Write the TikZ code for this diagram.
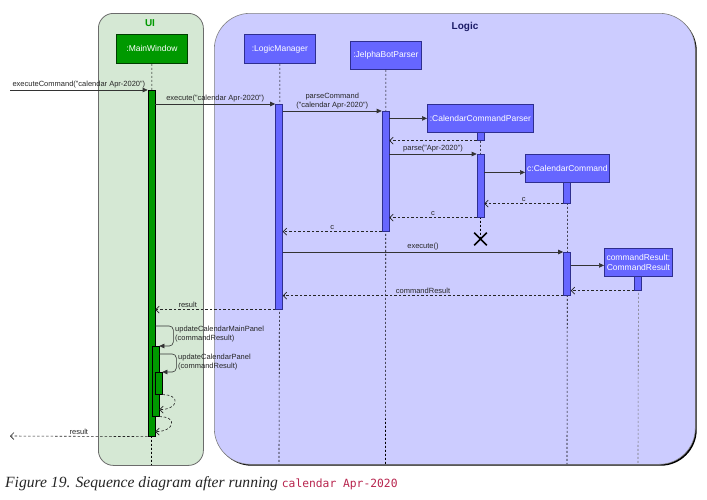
\documentclass[tikz,border=0pt]{standalone}
\usepackage{fontspec}
\setmainfont{Liberation Sans}
\newfontfamily\capfont{Liberation Serif}
\newfontfamily\codefont{DejaVu Sans Mono}
\usetikzlibrary{arrows.meta,shapes.misc,calc}
\definecolor{uifill}{HTML}{D5E8D4}
\definecolor{uiborder}{HTML}{6B6B6B}
\definecolor{logicfill}{HTML}{CCCCFF}
\definecolor{mwgreen}{HTML}{009900}
\definecolor{lblue}{HTML}{6666FF}
\definecolor{lborder}{HTML}{2E2E8F}
\definecolor{navytitle}{HTML}{1A1A66}
\definecolor{codered}{HTML}{B8254E}
\tikzset{
  hdrbox/.style={draw=lborder, fill=lblue, text=white, font=\fontsize{8.5}{10}\selectfont,
    inner sep=0pt, anchor=north west, line width=0.8pt},
  hdrgreen/.style={hdrbox, draw=black!60!mwgreen, fill=mwgreen},
  actbar/.style={draw=lborder, fill=lblue, minimum width=7pt, inner sep=0pt, anchor=north, line width=0.6pt},
  actgreen/.style={actbar, draw=black, fill=mwgreen},
  msg/.style={-{Triangle[length=5pt,width=4.5pt]}, line width=0.6pt, draw=black!80},
  ret/.style={-{Straight Barb[length=3.5pt,width=7pt]}, dash pattern=on 2.5pt off 2pt, line width=0.6pt, draw=black!85},
  lbl/.style={above, inner sep=1.5pt, text=black!85},
  life/.style={dash pattern=on 2pt off 2pt, line width=0.6pt},
  selflbl/.style={anchor=west, align=left, inner sep=1pt, text=black!85, font=\fontsize{7.5}{9.5}\selectfont}
}
\begin{document}
\begin{tikzpicture}[x=1pt,y=-1pt,font=\fontsize{7.5}{9}\selectfont]
\fill[white] (0,0) rectangle (707,499);
\useasboundingbox (0,0) rectangle (707,499);

% frames
\node[draw=uiborder, fill=uifill, rounded corners=15pt, minimum width=105pt, minimum height=452pt,
  anchor=north west, line width=0.8pt, inner sep=0pt] (uibox) at (98,13) {};
\node[fill=black, rounded corners=36pt, minimum width=481pt, minimum height=451pt,
  anchor=north west, inner sep=0pt] (logicshadow) at (215.5,14.5) {};
\node[draw=black!50, fill=logicfill, rounded corners=36pt, minimum width=481pt, minimum height=451pt,
  anchor=north west, line width=0.6pt, inner sep=0pt] (logicbox) at (214,13) {};
\node[font=\bfseries\fontsize{10}{12}\selectfont, text=mwgreen] (uititle) at (150,23) {UI};
\node[font=\bfseries\fontsize{10}{12}\selectfont, text=navytitle] (logictitle) at (465,27) {Logic};

% headers
\node[hdrgreen, minimum width=71pt, minimum height=29pt] (mw) at (116,34) {:MainWindow};
\node[hdrbox, minimum width=71pt, minimum height=29pt] (lm) at (244,34) {:LogicManager};
\node[hdrbox, minimum width=71pt, minimum height=28pt] (jp) at (350,41) {:JelphaBotParser};
\node[hdrbox, minimum width=106pt, minimum height=28pt] (ccp) at (427,104) {:CalendarCommandParser};
\node[hdrbox, minimum width=84pt, minimum height=28pt] (cc) at (525,154) {c:CalendarCommand};
\node[hdrbox, minimum width=68pt, minimum height=28pt, align=center, font=\fontsize{8.5}{10}\selectfont] (cr) at (604,248) {commandResult:\\CommandResult};

% lifeline ends
\coordinate (mwEnd) at (151.5,465);
\coordinate (lmEnd) at (279,464);
\coordinate (jpEnd) at (385.5,464);
\coordinate (ccEnd) at (567,464);
\coordinate (crEnd) at (638,464);
\node[cross out, draw=black, line width=1.6pt, minimum size=11pt, inner sep=0pt] (xd) at (480.5,239) {};

\draw[life] (mw.south) -- (mwEnd);
\draw[life] (lm.south) -- (lmEnd);
\draw[life] (jp.south) -- (jpEnd);
\draw[life] (ccp.south) -- (xd.center);
\draw[life] (cc.south) -- (ccEnd);
\draw[life, draw=black!55] (cr.south) -- (crEnd);

% activations
\node[actgreen, minimum height=346pt] (mwA) at (151.5,90) {};
\node[actgreen, minimum height=70pt] (mwA2) at (155.5,346) {};
\node[actgreen, minimum height=22pt] (mwA3) at (158.5,372) {};
\node[actbar, minimum height=205pt] (lmA) at (279,104) {};
\node[actbar, minimum height=120pt] (jpA) at (385.5,111) {};
\node[actbar, minimum height=8pt] (ccpA1) at (480.5,132) {};
\node[actbar, minimum height=63pt] (ccpA2) at (480.5,154) {};
\node[actbar, minimum height=21pt] (ccA) at (567,182) {};
\node[actbar, minimum height=43pt] (ccA2) at (567,252) {};
\node[actbar, minimum height=14pt] (crA) at (638,276) {};

% messages
\coordinate (startPt) at (10,90);
\draw[msg] (startPt) -- node[lbl]{executeCommand("calendar Apr-2020")} (mwA.north west);
\draw[msg] (lmA.north west -| mwA.east) -- node[lbl]{execute("calendar Apr-2020")} (lmA.north west);
\draw[msg] (jpA.north west -| lmA.east) -- node[lbl, align=center]{parseCommand\\("calendar Apr-2020")} (jpA.north west);
\draw[msg] (ccp.west -| jpA.east) -- (ccp.west);
\draw[ret] (ccpA1.south west) -- (ccpA1.south west -| jpA.east);
\draw[msg] (ccpA2.north west -| jpA.east) -- node[lbl]{parse("Apr-2020")} (ccpA2.north west);
\coordinate (ccIn) at ([yshift=-4pt]cc.west);
\draw[msg] (ccIn -| ccpA2.east) -- (ccIn);
\draw[ret] (ccA.south west) -- node[lbl]{c} (ccA.south west -| ccpA2.east);
\draw[ret] (ccpA2.south west) -- node[lbl]{c} (ccpA2.south west -| jpA.east);
\draw[ret] (jpA.south west) -- node[lbl]{c} (jpA.south west -| lmA.east);
\draw[msg] (ccA2.north west -| lmA.east) -- node[lbl]{execute()} (ccA2.north west);
\coordinate (crIn) at ([yshift=-3pt]cr.west);
\draw[msg] (crIn -| ccA2.east) -- (crIn);
\draw[ret] (crA.south west) -- (crA.south west -| ccA2.east);
\draw[ret] (ccA2.south west) -- node[lbl]{commandResult} (ccA2.south west -| lmA.east);
\draw[ret] (lmA.south west) -- node[lbl, pos=0.73]{result} (lmA.south west -| mwA.east);

% self calls
\coordinate (s1a) at ([yshift=20pt]mwA2.north east);
\draw[msg, rounded corners=4pt] (s1a -| mwA.east) -- ++(18,0) |- (mwA2.north east);
\node[selflbl] (l1) at (174,334) {updateCalendarMainPanel\\(commandResult)};
\coordinate (s2a) at ([yshift=18pt]mwA3.north east);
\draw[msg, rounded corners=4pt] (s2a -| mwA2.east) -- ++(17,0) |- (mwA3.north east);
\node[selflbl] (l2) at (177,362) {updateCalendarPanel\\(commandResult)};

\coordinate (r1) at ([yshift=-15pt]mwA3.south east);
\draw[ret] (mwA3.south east) .. controls +(19,0) and +(19,0) .. (r1 -| mwA2.east);
\coordinate (r2) at ([yshift=-15pt]mwA2.south east);
\draw[ret] (mwA2.south east) .. controls +(19,0) and +(19,0) .. (r2 -| mwA.east);

\coordinate (finPt) at (10,436);
\draw[ret] (mwA.south west) -- node[lbl]{result} (finPt);

% caption
\node[anchor=base west, inner sep=0pt, text=black!85] (cap) at (5,487)
  {\capfont\itshape\fontsize{15.6}{18}\selectfont Figure 19. Sequence diagram after running {\codefont\upshape\color{codered}\fontsize{11.3}{14}\selectfont calendar Apr-2020}};
\end{tikzpicture}
\end{document}
